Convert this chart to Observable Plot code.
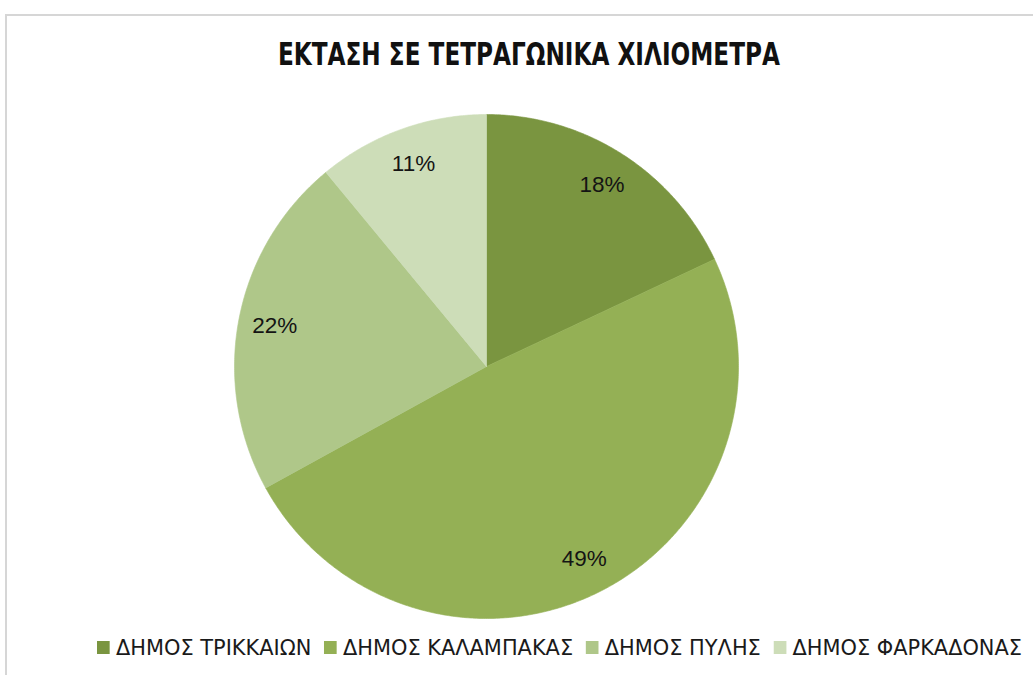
<!DOCTYPE html>
<html>
<head>
<meta charset="utf-8">
<script src="https://cdn.jsdelivr.net/npm/d3@7"></script>
<script src="https://cdn.jsdelivr.net/npm/@observablehq/plot@0.6"></script>
<style>
  html, body { margin: 0; padding: 0; background: #fff; width: 1033px; height: 675px; overflow: hidden; }
  #frame { position: absolute; left: 5px; top: 14px; width: 1100px; height: 700px; border: 2px solid #d6d6d6; box-sizing: border-box; }
  #title { position: absolute; left: 0; top: 39px; width: 1058px; text-align: center; line-height: 31px; white-space: nowrap; }
  #title span { display: inline-block; transform-origin: center; font-family: "Liberation Sans Narrow", "DejaVu Sans Condensed", sans-serif;
           font-weight: bold; font-size: 31px; color: #111; }
  #chart { position: absolute; left: 0; top: 105px; }
  #legend { position: absolute; left: 97px; top: 636px; white-space: nowrap; transform-origin: left center;
            font-family: "Liberation Sans Narrow", "DejaVu Sans Condensed", sans-serif; font-size: 22px; line-height: 22px; color: #1a1a1a; }
  .item { display: inline-flex; align-items: center; margin-right: 12px; }
  .item:last-child { margin-right: 0; }
  .sw { display: inline-block; width: 12px; height: 13px; margin-right: 6px; }
</style>
</head>
<body>
<div id="frame"></div>
<div id="title"><span>ΕΚΤΑΣΗ ΣΕ ΤΕΤΡΑΓΩΝΙΚΑ ΧΙΛΙΟΜΕΤΡΑ</span></div>
<div id="chart"></div>
<div id="legend"></div>
<script>
const names = ["ΔΗΜΟΣ ΤΡΙΚΚΑΙΩΝ", "ΔΗΜΟΣ ΚΑΛΑΜΠΑΚΑΣ", "ΔΗΜΟΣ ΠΥΛΗΣ", "ΔΗΜΟΣ ΦΑΡΚΑΔΟΝΑΣ"];
const shares = [18, 49, 22, 11];
const colors = ["#7A9540", "#94B055", "#AFC789", "#CDDDB8"];

const arcs = d3.pie().sort(null).value(d => d)(shares);

// polygon points for each slice (center + sampled arc), in unit coordinates
const slicePts = [];
arcs.forEach((a, i) => {
  slicePts.push({name: names[i], x: 0, y: 0});
  const n = Math.max(2, Math.ceil((a.endAngle - a.startAngle) / (Math.PI / 360)));
  for (let k = 0; k <= n; k++) {
    const t = a.startAngle + (a.endAngle - a.startAngle) * k / n;
    slicePts.push({name: names[i], x: Math.sin(t), y: Math.cos(t)});
  }
  slicePts.push({name: names[i], x: 0, y: 0});
});

const labels = arcs.map((a, i) => {
  const t = (a.startAngle + a.endAngle) / 2;
  return {name: names[i], text: shares[i] + "%", x: 0.855 * Math.sin(t), y: 0.855 * Math.cos(t)};
});

const cx = 486, cy = 261, r = 252;
const chart = Plot.plot({
  width: 1033,
  height: 520,
  margin: 0,
  x: {domain: [-1, 1], range: [cx - r, cx + r], axis: null},
  y: {domain: [-1, 1], range: [cy + r, cy - r], axis: null},
  color: {domain: names, range: colors},
  style: {background: "transparent"},
  marks: [
    Plot.line(slicePts, {x: "x", y: "y", z: "name", fill: "name", stroke: "name", strokeWidth: 0.6, curve: "linear"}),
    Plot.text(labels, {x: "x", y: "y", text: "text", fontSize: 22.5, fill: "#141414",
      fontFamily: "'Liberation Sans', Arial, sans-serif"})
  ]
});
document.getElementById("chart").appendChild(chart);

// legend
const legend = document.getElementById("legend");
names.forEach((n, i) => {
  const item = document.createElement("span");
  item.className = "item";
  const sw = document.createElement("span");
  sw.className = "sw";
  sw.style.background = colors[i];
  item.appendChild(sw);
  item.appendChild(document.createTextNode(n));
  legend.appendChild(item);
});
const lw = legend.getBoundingClientRect().width;
legend.style.transform = `scaleX(${925 / lw})`;

// title fit
const ts = document.querySelector("#title span");
const tw = ts.getBoundingClientRect().width;
ts.style.transform = `scaleX(${502 / tw})`;
</script>
</body>
</html>
